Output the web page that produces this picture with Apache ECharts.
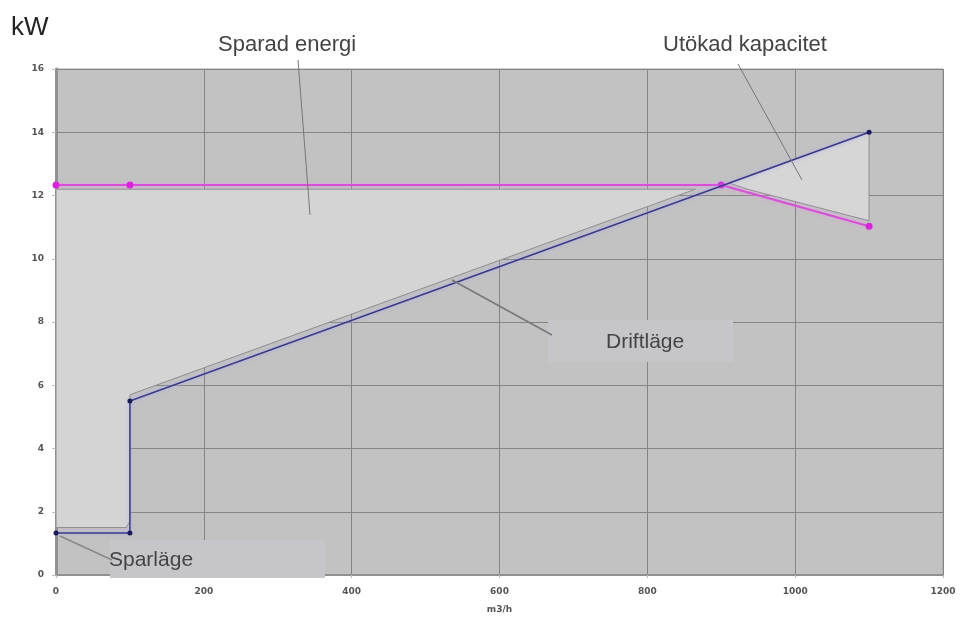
<!DOCTYPE html>
<html><head><meta charset="utf-8">
<script src="https://cdn.jsdelivr.net/npm/echarts@6/dist/echarts.min.js"></script>
<style>html,body{margin:0;padding:0;background:#fff}#c{width:960px;height:622px}</style>
</head><body><div id="c"></div>
<script>
// Data
const xTicks = [0, 200, 400, 600, 800, 1000, 1200];
const yTicks = [0, 2, 4, 6, 8, 10, 12, 14, 16];
const driftX = [0, 100, 100, 1100];
const driftY = [1.33, 1.33, 5.5, 14];
const maxX = [0, 100, 900, 1100];
const maxY = [12.33, 12.33, 12.33, 11.03];
const savedX = [0, 865, 100, 100, 95, 0];
const savedY = [12.2, 12.2, 5.7, 1.7, 1.5, 1.5];
const extraX = [910, 1100, 1100, 935];
const extraY = [12.4, 14, 11.2, 12.2];

const zip = (a, b) => a.map((v, i) => [v, b[i]]);

function polySeries(xs, ys, fill) {
  return {
    type: 'custom', silent: true, z: 1,
    data: [0],
    renderItem: function (params, api) {
      const pts = xs.map((x, i) => api.coord([x, ys[i]]));
      return { type: 'polygon', shape: { points: pts },
        style: { fill: fill, stroke: '#8e8e8e', lineWidth: 1 } };
    }
  };
}

const labelFont = 'Liberation Sans';
const chart = echarts.init(document.getElementById('c'));
chart.setOption({
  animation: false,
  backgroundColor: '#ffffff',
  grid: { left: 56, right: 17, top: 69, bottom: 47, show: true, backgroundColor: '#c2c2c2', borderColor: '#a0a0a0', borderWidth: 1 },
  xAxis: {
    type: 'value', min: 0, max: 1200, interval: 200,
    name: 'm3/h', nameLocation: 'middle', nameGap: 30,
    nameTextStyle: { color: '#555', fontSize: 9, fontWeight: 'bold', fontFamily: 'DejaVu Sans' },
    axisLine: { show: true, lineStyle: { color: '#909090', width: 2 } },
    axisTick: { show: true, length: 3, lineStyle: { color: '#bbb' } },
    axisLabel: { color: '#555', fontSize: 9, fontWeight: 'bold', fontFamily: 'DejaVu Sans', margin: 12,
      formatter: v => xTicks.includes(v) ? String(v) : '' },
    splitLine: { show: true, lineStyle: { color: '#858585', width: 1 } }
  },
  yAxis: {
    type: 'value', min: 0, max: 16, interval: 2,
    axisLine: { show: true, lineStyle: { color: '#909090', width: 3 } },
    axisTick: { show: true, length: 4, lineStyle: { color: '#bbb' } },
    axisLabel: { color: '#555', fontSize: 9, fontWeight: 'bold', fontFamily: 'DejaVu Sans', margin: 12,
      formatter: v => yTicks.includes(v) ? String(v) : '' },
    splitLine: { show: true, lineStyle: { color: '#858585', width: 1 } }
  },
  series: [
    polySeries(savedX, savedY, '#d4d4d4'),
    polySeries(extraX, extraY, '#d6d6d6'),
    {
      type: 'line', z: 3, data: zip(maxX, maxY),
      symbol: 'circle', symbolSize: 7,
      lineStyle: { color: '#d64fd6', width: 2, shadowColor: 'rgba(230,150,230,0.9)', shadowBlur: 4 },
      itemStyle: { color: '#e020e0' }
    },
    {
      type: 'line', z: 4, data: zip(driftX, driftY),
      symbol: 'circle', symbolSize: 5,
      lineStyle: { color: '#3a3a8a', width: 1.5, shadowColor: 'rgba(170,170,230,1)', shadowBlur: 4 },
      itemStyle: { color: '#1a1a5a' }
    }
  ],
  graphic: [
    { type: 'text', x: 11, y: 28, style: { text: 'kW', fontSize: 26, fill: '#222', fontFamily: labelFont, textVerticalAlign: 'middle' } },
    { type: 'text', x: 218, y: 45, z: 11, style: { text: 'Sparad energi', fontSize: 22, fill: '#444', fontFamily: labelFont, textVerticalAlign: 'middle' } },
    { type: 'line', z: 12, shape: { x1: 298, y1: 60, x2: 310, y2: 215 }, style: { stroke: '#777', lineWidth: 1 } },
    { type: 'text', x: 663, y: 45, z: 11, style: { text: 'Utökad kapacitet', fontSize: 22, fill: '#444', fontFamily: labelFont, textVerticalAlign: 'middle' } },
    { type: 'line', z: 12, shape: { x1: 738, y1: 64, x2: 802, y2: 180 }, style: { stroke: '#777', lineWidth: 1 } },
    { type: 'rect', z: 10, shape: { x: 548, y: 320, width: 185, height: 42 }, style: { fill: '#c6c6ca' } },
    { type: 'text', z: 11, x: 606, y: 342, style: { text: 'Driftläge', fontSize: 21, fill: '#444', fontFamily: labelFont, textVerticalAlign: 'middle' } },
    { type: 'line', z: 12, shape: { x1: 452, y1: 280, x2: 552, y2: 335 }, style: { stroke: '#777', lineWidth: 1.5 } },
    { type: 'rect', z: 10, shape: { x: 110, y: 540, width: 215, height: 38 }, style: { fill: '#c6c6ca' } },
    { type: 'text', z: 11, x: 109, y: 560, style: { text: 'Sparläge', fontSize: 21, fill: '#444', fontFamily: labelFont, textVerticalAlign: 'middle' } },
    { type: 'line', z: 12, shape: { x1: 60, y1: 536, x2: 112, y2: 560 }, style: { stroke: '#888', lineWidth: 1.5 } }
  ]
});
</script></body></html>
